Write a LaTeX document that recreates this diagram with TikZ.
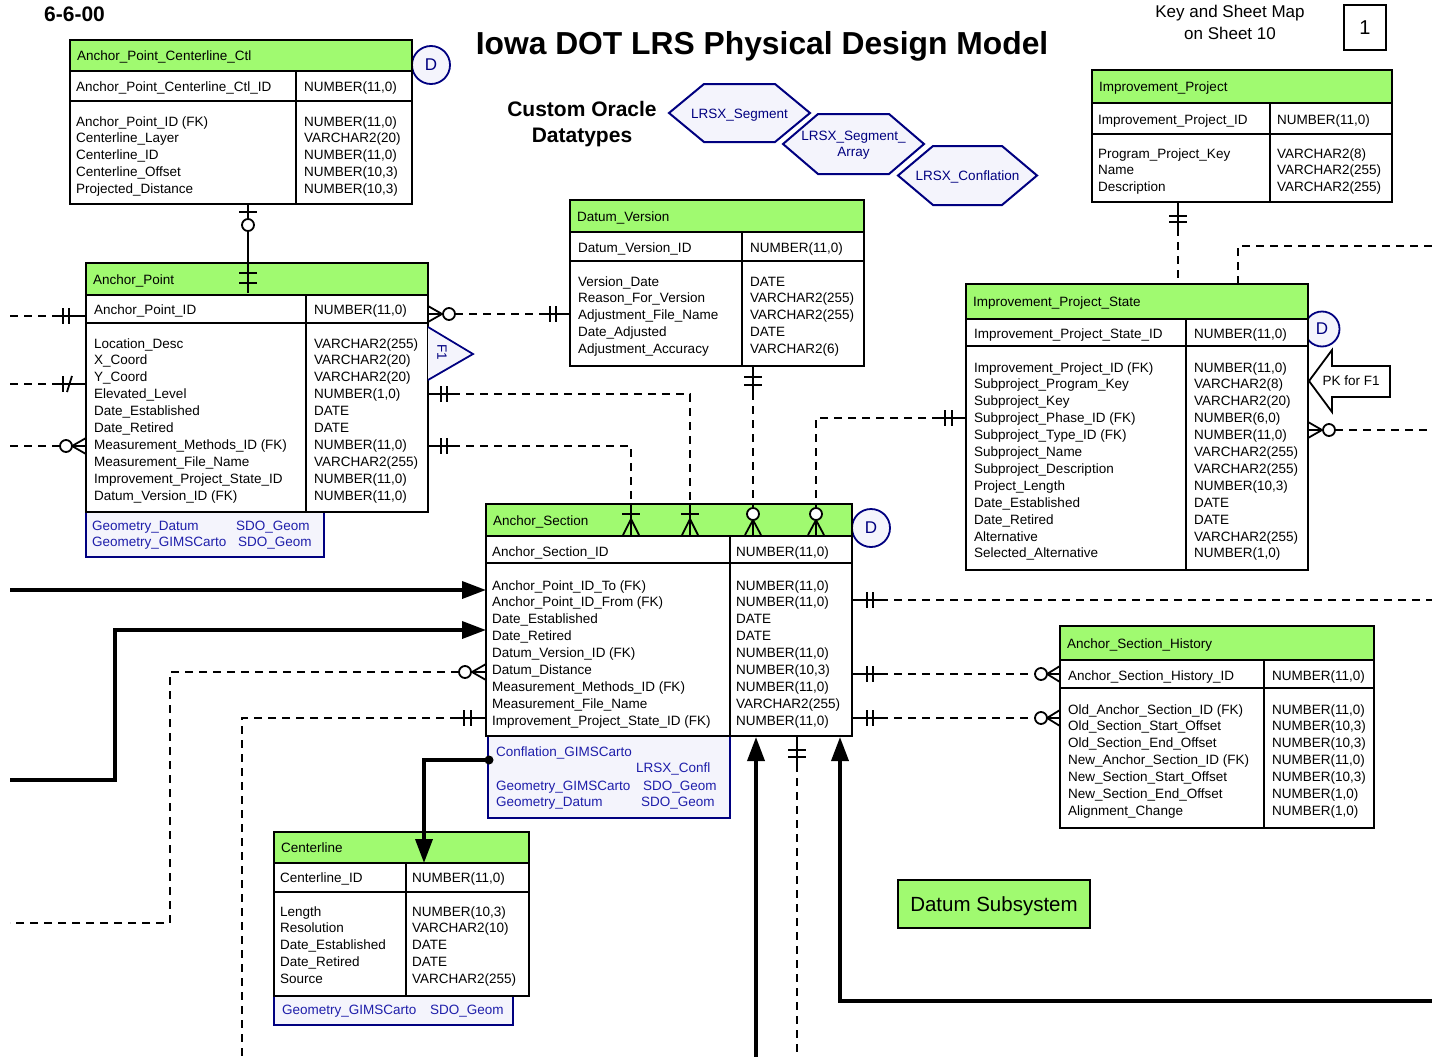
\documentclass[tikz,border=0pt]{standalone}
\usepackage{fontspec}
\setmainfont{Liberation Sans}
\usetikzlibrary{arrows.meta}
\definecolor{hdrfill}{RGB}{160,250,112}
\definecolor{navy}{RGB}{0,0,128}
\definecolor{attrblue}{RGB}{30,30,170}
\definecolor{attrfill}{RGB}{244,244,252}
\tikzset{
  tbl/.style={draw=black, line width=2pt},
  sep/.style={draw=black, line width=1.6pt},
  cell/.style={anchor=base west, inner sep=0pt, font=\fontsize{13.5}{16}\selectfont},
  acell/.style={cell, text=attrblue},
  attrbox/.style={draw=navy, line width=2pt, fill=attrfill},
  rel/.style={line width=1.8pt},
  reld/.style={rel, dash pattern=on 8pt off 6pt},
  thickln/.style={line width=3.6pt},
  tipA/.style={-{Triangle[length=24pt,width=17pt]}},
  dcirc/.style={circle, draw=navy, fill=attrfill, line width=1.8pt, minimum size=38pt, inner sep=0pt, text=navy, font=\fontsize{17}{20}\selectfont},
  hex/.style={draw=navy, line width=2pt, fill=attrfill},
  hext/.style={anchor=base, inner sep=0pt, text=navy, font=\fontsize{13.5}{16}\selectfont},
}
\newcommand{\ertable}[9]{%
  \fill[white] (#2,#5) rectangle (#4,#8);
  \fill[hdrfill] (#2,#5) rectangle (#4,#6);
  \draw[tbl] (#2,#5) rectangle (#4,#8);
  \draw[sep] (#2,#6) -- (#4,#6) (#2,#7) -- (#4,#7) (#3,#6) -- (#3,#8);
  \node[cell] (#1-title) at ({#2+7},{(#5+#6)/2+5}) {#9};
}
\newcommand{\ercols}[6]{%
  \foreach \rt [count=\i] in {#5} {\node[cell] (#1a\i) at (#2,{#4+(\i-1)*16.9}) {\rt};}
  \foreach \rt [count=\i] in {#6} {\node[cell] (#1b\i) at (#3,{#4+(\i-1)*16.9}) {\rt};}
}
\newcommand{\ercrowh}[3]{\draw[rel] (#1,#3) -- (#2,{#3-8}) (#1,#3) -- (#2,{#3+8}) (#1,#3) -- (#2,#3);}
\newcommand{\ercrowv}[3]{\draw[rel] (#1,#2) -- ({#1-8},#3) (#1,#2) -- ({#1+8},#3) (#1,#2) -- (#1,#3);}
\newcommand{\ercirc}[2]{\draw[rel,fill=white] (#1,#2) circle[radius=6pt];}
\newcommand{\ervbr}[2]{\draw[rel] (#1,{#2-8}) -- (#1,{#2+8});}
\newcommand{\erhbr}[2]{\draw[rel] ({#1-9},#2) -- ({#1+9},#2);}
\begin{document}
\begin{tikzpicture}[x=1pt,y=-1pt]
\useasboundingbox (0,0) rectangle (1432,1057);
\fill[white] (0,0) rectangle (1432,1057);

% ---------- titles ----------
\node[anchor=base west, inner sep=0pt, font=\bfseries\fontsize{21}{24}\selectfont] (date) at (44,22) {6-6-00};
\node[anchor=base, inner sep=0pt, font=\bfseries\fontsize{31.8}{36}\selectfont] (title) at (762,55) {Iowa DOT LRS Physical Design Model};
\node[anchor=base, inner sep=0pt, font=\fontsize{17}{20}\selectfont] (key1) at (1230,18) {Key and Sheet Map};
\node[anchor=base, inner sep=0pt, font=\fontsize{17}{20}\selectfont] (key2) at (1230,40) {on Sheet 10};
\node[draw, line width=2pt, minimum width=42pt, minimum height=45pt, inner sep=0pt, font=\fontsize{20}{24}\selectfont] (sheet) at (1365,27.5) {1};
\node[anchor=base, inner sep=0pt, font=\bfseries\fontsize{21}{24}\selectfont] (cod1) at (582,116.5) {Custom Oracle};
\node[anchor=base, inner sep=0pt, font=\bfseries\fontsize{21}{24}\selectfont] (cod2) at (582,142.5) {Datatypes};

% ---------- hexagon datatypes ----------
\draw[hex] (669,113) -- (704,84) -- (775,84) -- (810,113) -- (775,142) -- (704,142) -- cycle;
\node[hext] (hx1) at (739.5,118) {LRSX\_Segment};
\draw[hex] (783,144) -- (818,114) -- (889,114) -- (924,144) -- (889,174) -- (818,174) -- cycle;
\node[hext] (hx2a) at (853.5,140) {LRSX\_Segment\_};
\node[hext] (hx2b) at (853.5,156) {Array};
\draw[hex] (898,175.5) -- (933,146) -- (1002,146) -- (1037,175.5) -- (1002,205) -- (933,205) -- cycle;
\node[hext] (hx3) at (967.5,180) {LRSX\_Conflation};

% ---------- D markers (behind tables) ----------
\node[dcirc] (d1) at (431,65) {D};
\node[dcirc, minimum size=35pt] (d2) at (1322,329) {D};
\node[dcirc] (d3) at (871,528) {D};

% ---------- attribute boxes ----------
\draw[attrbox] (86,512) rectangle (324,557);
\node[acell] (apg1) at (92,530) {Geometry\_Datum};
\node[acell] (apg2) at (236,530) {SDO\_Geom};
\node[acell] (apg3) at (92,546) {Geometry\_GIMSCarto};
\node[acell] (apg4) at (238,546) {SDO\_Geom};
\draw[attrbox] (488,736) rectangle (730,818);
\node[acell] (asg1) at (496,756) {Conflation\_GIMSCarto};
\node[acell] (asg2) at (636,772) {LRSX\_Confl};
\node[acell] (asg3) at (496,790) {Geometry\_GIMSCarto};
\node[acell] (asg4) at (643,790) {SDO\_Geom};
\node[acell] (asg5) at (496,806) {Geometry\_Datum};
\node[acell] (asg6) at (641,806) {SDO\_Geom};
\draw[attrbox] (274,996) rectangle (513,1025);
\node[acell] (clg1) at (282,1014) {Geometry\_GIMSCarto};
\node[acell] (clg2) at (430,1014) {SDO\_Geom};

% ---------- tables ----------
\ertable{ctl}{70}{296}{412}{40}{71}{101}{204}{Anchor\_Point\_Centerline\_Ctl}
\ercols{ctlp}{76}{304}{92}{Anchor\_Point\_Centerline\_Ctl\_ID}{{NUMBER(11,0)}}
\ercols{ctl}{76}{304}{126}{Anchor\_Point\_ID (FK),Centerline\_Layer,Centerline\_ID,Centerline\_Offset,Projected\_Distance}{{NUMBER(11,0)},{VARCHAR2(20)},{NUMBER(11,0)},{NUMBER(10,3)},{NUMBER(10,3)}}

\ertable{ap}{86}{306}{428}{263}{295}{323}{512}{Anchor\_Point}
\ercols{app}{94}{314}{314}{Anchor\_Point\_ID}{{NUMBER(11,0)}}
\ercols{ap}{94}{314}{348}{Location\_Desc,X\_Coord,Y\_Coord,Elevated\_Level,Date\_Established,Date\_Retired,Measurement\_Methods\_ID (FK),Measurement\_File\_Name,Improvement\_Project\_State\_ID,Datum\_Version\_ID (FK)}{{VARCHAR2(255)},{VARCHAR2(20)},{VARCHAR2(20)},{NUMBER(1,0)},DATE,DATE,{NUMBER(11,0)},{VARCHAR2(255)},{NUMBER(11,0)},{NUMBER(11,0)}}

\ertable{dv}{570}{742}{864}{200}{232}{261}{366}{Datum\_Version}
\ercols{dvp}{578}{750}{252}{Datum\_Version\_ID}{{NUMBER(11,0)}}
\ercols{dv}{578}{750}{286}{Version\_Date,Reason\_For\_Version,Adjustment\_File\_Name,Date\_Adjusted,Adjustment\_Accuracy}{DATE,{VARCHAR2(255)},{VARCHAR2(255)},DATE,{VARCHAR2(6)}}

\ertable{ip}{1092}{1270}{1392}{70}{103}{134}{202}{Improvement\_Project}
\ercols{ipp}{1098}{1277}{124}{Improvement\_Project\_ID}{{NUMBER(11,0)}}
\ercols{ip}{1098}{1277}{158}{Program\_Project\_Key,Name,Description}{{VARCHAR2(8)},{VARCHAR2(255)},{VARCHAR2(255)}}

\ertable{ips}{966}{1186}{1308}{284}{319}{346}{570}{Improvement\_Project\_State}
\ercols{ipsp}{974}{1194}{338}{Improvement\_Project\_State\_ID}{{NUMBER(11,0)}}
\ercols{ips}{974}{1194}{372}{Improvement\_Project\_ID (FK),Subproject\_Program\_Key,Subproject\_Key,Subproject\_Phase\_ID (FK),Subproject\_Type\_ID (FK),Subproject\_Name,Subproject\_Description,Project\_Length,Date\_Established,Date\_Retired,Alternative,Selected\_Alternative}{{NUMBER(11,0)},{VARCHAR2(8)},{VARCHAR2(20)},{NUMBER(6,0)},{NUMBER(11,0)},{VARCHAR2(255)},{VARCHAR2(255)},{NUMBER(10,3)},DATE,DATE,{VARCHAR2(255)},{NUMBER(1,0)}}

\ertable{as}{486}{730}{852}{504}{536}{563}{736}{Anchor\_Section}
\ercols{asp}{492}{736}{556}{Anchor\_Section\_ID}{{NUMBER(11,0)}}
\ercols{as}{492}{736}{590}{Anchor\_Point\_ID\_To (FK),Anchor\_Point\_ID\_From (FK),Date\_Established,Date\_Retired,Datum\_Version\_ID (FK),Datum\_Distance,Measurement\_Methods\_ID (FK),Measurement\_File\_Name,Improvement\_Project\_State\_ID (FK)}{{NUMBER(11,0)},{NUMBER(11,0)},DATE,DATE,{NUMBER(11,0)},{NUMBER(10,3)},{NUMBER(11,0)},{VARCHAR2(255)},{NUMBER(11,0)}}

\ertable{cl}{274}{406}{529}{832}{863}{892}{996}{Centerline}
\ercols{clp}{280}{412}{882}{Centerline\_ID}{{NUMBER(11,0)}}
\ercols{cl}{280}{412}{916}{Length,Resolution,Date\_Established,Date\_Retired,Source}{{NUMBER(10,3)},{VARCHAR2(10)},DATE,DATE,{VARCHAR2(255)}}

\ertable{ash}{1060}{1264}{1374}{626}{660}{688}{828}{Anchor\_Section\_History}
\ercols{ashp}{1068}{1272}{680}{Anchor\_Section\_History\_ID}{{NUMBER(11,0)}}
\ercols{ash}{1068}{1272}{714}{Old\_Anchor\_Section\_ID (FK),Old\_Section\_Start\_Offset,Old\_Section\_End\_Offset,New\_Anchor\_Section\_ID (FK),New\_Section\_Start\_Offset,New\_Section\_End\_Offset,Alignment\_Change}{{NUMBER(11,0)},{NUMBER(10,3)},{NUMBER(10,3)},{NUMBER(11,0)},{NUMBER(10,3)},{NUMBER(1,0)},{NUMBER(1,0)}}

% ---------- F1 flag and PK arrow ----------
\draw[navy, line width=1.8pt, fill=attrfill] (428,327) -- (473,354) -- (428,380);
\node[rotate=-90, inner sep=0pt, text=navy, font=\fontsize{13.5}{16}\selectfont] (f1) at (442,352) {F1};
\draw[line width=1.8pt, fill=white] (1309,381) -- (1332,350) -- (1332,366) -- (1390,366) -- (1390,397) -- (1332,397) -- (1332,412) -- cycle;
\node[inner sep=0pt, font=\fontsize{13.5}{16}\selectfont] (pkf1) at (1351,381) {PK for F1};

% ---------- Datum Subsystem label ----------
\node[draw, line width=2pt, fill=hdrfill, minimum width=192pt, minimum height=48pt, text depth=0pt, font=\fontsize{20.5}{24}\selectfont] (dsub) at (994,904) {Datum Subsystem};

% ---------- connectors ----------
% Ctl -- Anchor_Point
\coordinate (ctlS) at (248,204);
\coordinate (apN) at (248,293);
\draw[rel] (ctlS) -- (apN);
\erhbr{248}{212}
\ercirc{248}{225}
\erhbr{248}{273}
\erhbr{248}{283}

% Anchor_Point left side
\coordinate (apW1) at (86,316);
\coordinate (apW2) at (86,384);
\coordinate (apW3) at (86,446);
\draw[reld] (10,316) -- (58,316);
\draw[rel] (58,316) -- (apW1);
\ervbr{63}{316}
\ervbr{69}{316}
\draw[reld] (10,384) -- (58,384);
\draw[rel] (58,384) -- (apW2);
\ervbr{63}{384}
\draw[rel] (67,392) -- (72,376);
\draw[reld] (10,446) -- (60,446);
\ercirc{66}{446}
\ercrowh{72}{86}{446}

% Anchor_Point -> Datum_Version
\coordinate (apE1) at (428,314);
\coordinate (dvW) at (570,314);
\ercrowh{442}{428}{314}
\ercirc{449}{314}
\draw[reld] (455,314) -- (545,314);
\draw[rel] (545,314) -- (dvW);
\ervbr{550}{314}
\ervbr{556}{314}

% Anchor_Point -> Anchor_Section (two)
\coordinate (apE2) at (428,394);
\coordinate (asN2) at (690,504);
\draw[rel] (apE2) -- (452,394);
\ervbr{441}{394}
\ervbr{447}{394}
\draw[reld] (452,394) -- (690,394) -- (asN2);
\coordinate (apE3) at (428,446);
\coordinate (asN1) at (631,504);
\draw[rel] (apE3) -- (452,446);
\ervbr{441}{446}
\ervbr{447}{446}
\draw[reld] (452,446) -- (631,446) -- (asN1);
\erhbr{631}{514}
\ercrowv{631}{519}{535}
\draw[rel] (631,504) -- (631,519);
\erhbr{690}{514}
\ercrowv{690}{519}{535}
\draw[rel] (690,504) -- (690,519);

% Datum_Version -> Anchor_Section
\coordinate (dvS) at (753,366);
\coordinate (asN3) at (753,507);
\draw[rel] (dvS) -- (753,392);
\erhbr{753}{377}
\erhbr{753}{385}
\draw[reld] (753,392) -- (asN3);
\ercirc{753}{514}
\ercrowv{753}{520}{535}

% Improvement_Project_State -> Anchor_Section
\coordinate (ipsW) at (966,418);
\coordinate (asN4) at (816,507);
\draw[rel] (ipsW) -- (940,418);
\ervbr{945}{418}
\ervbr{952}{418}
\draw[reld] (940,418) -- (816,418) -- (asN4);
\ercirc{816}{514}
\ercrowv{816}{520}{535}

% Improvement_Project -> Improvement_Project_State
\coordinate (ipS) at (1178,202);
\coordinate (ipsN) at (1178,284);
\draw[rel] (ipS) -- (1178,228);
\erhbr{1178}{216}
\erhbr{1178}{222}
\draw[reld] (1178,228) -- (ipsN);

% Improvement_Project_State off-sheet links
\coordinate (ipsN2) at (1238,284);
\coordinate (offA) at (1432,246);
\draw[reld] (ipsN2) -- (1238,246) -- (offA);
\coordinate (ipsE) at (1308,430);
\coordinate (offB) at (1432,430);
\ercrowh{1322}{1308}{430}
\ercirc{1329}{430}
\draw[reld] (1335,430) -- (offB);

% Anchor_Section left side
\coordinate (offC) at (10,590);
\coordinate (asW1) at (486,590);
\draw[thickln, tipA] (offC) -- (asW1);
\coordinate (offD) at (10,780);
\coordinate (asW2) at (486,630);
\draw[thickln, tipA] (offD) -- (115,780) -- (115,630) -- (asW2);
\coordinate (asW3) at (486,672);
\coordinate (offE) at (10,923);
\ercrowh{472}{486}{672}
\ercirc{465}{672}
\draw[reld] (459,672) -- (170,672) -- (170,923) -- (offE);
\coordinate (asW4) at (486,718);
\coordinate (offF) at (242,1057);
\draw[rel] (asW4) -- (458,718);
\ervbr{464}{718}
\ervbr{471}{718}
\draw[reld] (458,718) -- (242,718) -- (offF);

% Anchor_Section right side
\coordinate (asE1) at (852,600);
\coordinate (offG) at (1432,600);
\draw[rel] (asE1) -- (880,600);
\ervbr{867}{600}
\ervbr{873}{600}
\draw[reld] (880,600) -- (offG);
\coordinate (asE2) at (852,674);
\coordinate (ashW1) at (1060,674);
\draw[rel] (asE2) -- (880,674);
\ervbr{867}{674}
\ervbr{873}{674}
\draw[reld] (880,674) -- (1035,674);
\ercirc{1041}{674}
\ercrowh{1047}{1060}{674}
\coordinate (asE3) at (852,718);
\coordinate (ashW2) at (1060,718);
\draw[rel] (asE3) -- (880,718);
\ervbr{867}{718}
\ervbr{873}{718}
\draw[reld] (880,718) -- (1035,718);
\ercirc{1041}{718}
\ercrowh{1047}{1060}{718}

% Anchor_Section bottom
\coordinate (offH) at (756,1057);
\coordinate (asS1) at (756,737);
\draw[thickln, tipA] (offH) -- (asS1);
\coordinate (asS2) at (797,736);
\coordinate (offI) at (797,1057);
\draw[rel] (asS2) -- (797,764);
\erhbr{797}{750}
\erhbr{797}{757}
\draw[reld] (797,764) -- (offI);
\coordinate (offJ) at (1432,1001);
\coordinate (asS3) at (840,737);
\draw[thickln, tipA] (offJ) -- (840,1001) -- (asS3);

% Conflation -> Centerline
\coordinate (asConf) at (489,760);
\coordinate (clN) at (424,863);
\fill (asConf) circle[radius=4.5pt];
\draw[thickln, tipA] (asConf) -- (424,760) -- (clN);
\end{tikzpicture}
\end{document}
